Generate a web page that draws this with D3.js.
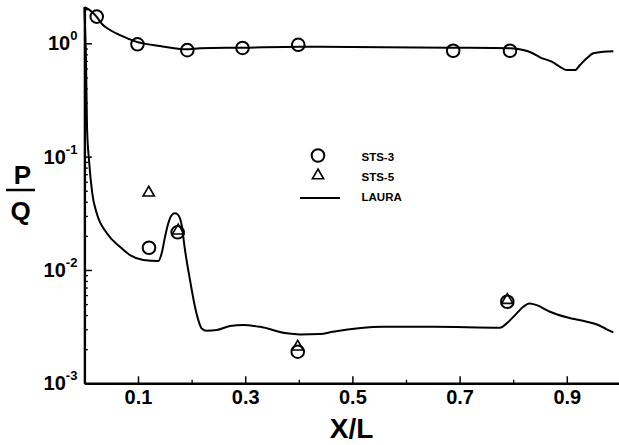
<!DOCTYPE html>
<html>
<head>
<meta charset="utf-8">
<script src="https://cdn.jsdelivr.net/npm/d3@7"></script>
<style>
  html, body { margin: 0; padding: 0; background: #fff; }
  svg { display: block; }
  text { font-family: "Liberation Sans", Arial, Helvetica, sans-serif; font-weight: bold; fill: #000; }
</style>
</head>
<body>
<svg id="chart" width="619" height="445"></svg>
<script>
// ---- data ----
const sts3X = [0.023, 0.099, 0.192, 0.295, 0.399, 0.688, 0.794, 0.1205, 0.174, 0.398, 0.789];
const sts3Y = [1.72, 0.98, 0.87, 0.91, 0.97, 0.86, 0.86, 0.0157, 0.0215, 0.0019, 0.00524];
const sts5X = [0.12, 0.175, 0.398, 0.789];
const sts5Y = [0.048, 0.0222, 0.0021, 0.00542];

const lauraUpperX = [0, 0.0067, 0.0142, 0.023, 0.0328, 0.0478, 0.0664, 0.0976, 0.141, 0.1909, 0.2157, 0.2953, 0.4022, 0.6877, 0.794, 0.8188, 0.8345, 0.85, 0.8718, 0.8873, 0.8998, 0.9153, 0.9246, 0.9371, 0.9494, 0.968, 0.9868];
const lauraUpperY = [2.09, 2.01, 1.89, 1.71, 1.48, 1.31, 1.18, 1.03, 0.946, 0.885, 0.904, 0.915, 0.933, 0.915, 0.904, 0.873, 0.826, 0.752, 0.688, 0.621, 0.581, 0.581, 0.643, 0.738, 0.816, 0.843, 0.85];

const lauraLowerX = [0, 0.002, 0.003, 0.0049, 0.0086, 0.0147, 0.023, 0.0416, 0.0664, 0.0851, 0.1099, 0.1379, 0.1442, 0.1504, 0.1565, 0.1629, 0.169, 0.1752, 0.1815, 0.1877, 0.197, 0.2063, 0.2125, 0.2188, 0.2282, 0.2468, 0.2716, 0.2965, 0.3276, 0.3774, 0.4022, 0.4396, 0.4638, 0.5577, 0.651, 0.7754, 0.7879, 0.8065, 0.8188, 0.83, 0.8438, 0.8687, 0.8998, 0.9371, 0.9588, 0.9744, 0.9868];
const lauraLowerY = [2.09, 1.07, 0.71, 0.182, 0.093, 0.0475, 0.0316, 0.0212, 0.016, 0.01353, 0.01225, 0.012, 0.01403, 0.0196, 0.0258, 0.0305, 0.0316, 0.0305, 0.0249, 0.015, 0.00816, 0.00473, 0.00361, 0.00305, 0.00291, 0.00295, 0.0032, 0.00327, 0.00315, 0.00276, 0.0027, 0.00272, 0.00285, 0.00315, 0.00315, 0.00309, 0.00338, 0.00414, 0.00473, 0.00507, 0.0049, 0.00428, 0.00382, 0.00349, 0.00327, 0.00299, 0.00281];

const xMajorTicks = [0.1, 0.3, 0.5, 0.7, 0.9];
const xMinorTicks = [0.2, 0.4, 0.6, 0.8];
const yMajorTicks = [1e-3, 1e-2, 1e-1, 1];
const yExponents = ["-3", "-2", "-1", "0"];
const legendLabels = ["STS-3", "STS-5", "LAURA"];

// ---- layout ----
const svg = d3.select("#chart");
const x = d3.scaleLinear().domain([0, 1]).range([84.4, 620.4]);
const y = d3.scaleLog().domain([0.001, 2.1]).range([383.3, 6.8]);

const yMinorTicks = [];
[0.001, 0.01, 0.1, 1].forEach(d => { for (let k = 2; k <= 9; k++) { const v = d * k; if (v <= 2.1) yMinorTicks.push(v); } });

// minor ticks
svg.append("g").attr("transform", "translate(84.4,0)")
  .call(d3.axisLeft(y).tickValues(yMinorTicks).tickSizeInner(-3.5).tickSizeOuter(0).tickFormat(() => ""))
  .call(g => g.select(".domain").remove())
  .call(g => g.selectAll("line").attr("stroke-width", 1.3));
svg.append("g").attr("transform", "translate(0,383.3)")
  .call(d3.axisBottom(x).tickValues(xMinorTicks).tickSizeInner(-3.5).tickSizeOuter(0).tickFormat(() => ""))
  .call(g => g.select(".domain").remove())
  .call(g => g.selectAll("line").attr("stroke-width", 1.3));

// major y axis
const gy = svg.append("g").attr("transform", "translate(84.4,0)")
  .call(d3.axisLeft(y).tickValues(yMajorTicks).tickSizeInner(-7.5).tickSizeOuter(0).tickPadding(7).tickFormat(() => ""));
gy.select(".domain").attr("stroke-width", 2.4);
gy.selectAll("line").attr("stroke-width", 1.5);
gy.selectAll(".tick text").each(function(d, i) {
  const t = d3.select(this).attr("font-size", 20).attr("font-family", null).attr("fill", "#000");
  t.append("tspan").text("10");
  t.append("tspan").attr("font-size", 13).attr("dy", -10).text(yExponents[yMajorTicks.indexOf(d)]);
});

// major x axis
const gx = svg.append("g").attr("transform", "translate(0,383.3)")
  .call(d3.axisBottom(x).tickValues(xMajorTicks).tickSizeInner(-7).tickSizeOuter(0).tickPadding(6.5).tickFormat(d3.format(".1f")));
gx.select(".domain").attr("stroke-width", 2.6);
gx.selectAll("line").attr("stroke-width", 1.5);
gx.selectAll(".tick text").attr("font-size", 20).attr("font-family", null).attr("fill", "#000");

// axis titles
svg.append("text").attr("x", 351.5).attr("y", 438).attr("text-anchor", "middle").attr("font-size", 28).text("X/L");
svg.append("text").attr("x", 22.5).attr("y", 183.5).attr("text-anchor", "middle").attr("font-size", 26).text("P");
svg.append("line").attr("x1", 6).attr("x2", 35).attr("y1", 190).attr("y2", 190).attr("stroke", "#000").attr("stroke-width", 2.5);
svg.append("text").attr("x", 20.5).attr("y", 219.5).attr("text-anchor", "middle").attr("font-size", 26).text("Q");

// LAURA curves
const line = d3.line().x(d => x(d[0])).y(d => y(d[1])).curve(d3.curveMonotoneX);
svg.append("path").datum(lauraUpperX.map((v, i) => [v, lauraUpperY[i]]))
  .attr("d", line).attr("fill", "none").attr("stroke", "#000").attr("stroke-width", 2);
svg.append("path").datum(lauraLowerX.map((v, i) => [v, lauraLowerY[i]]))
  .attr("d", line).attr("fill", "none").attr("stroke", "#000").attr("stroke-width", 2);

// symbols
const tri = d3.symbol().type(d3.symbolTriangle).size(55);
svg.append("g").selectAll("circle").data(sts3X.map((v, i) => [v, sts3Y[i]])).join("circle")
  .attr("cx", d => x(d[0])).attr("cy", d => y(d[1])).attr("r", 6.3)
  .attr("fill", "none").attr("stroke", "#000").attr("stroke-width", 2);
svg.append("g").selectAll("path").data(sts5X.map((v, i) => [v, sts5Y[i]])).join("path")
  .attr("d", tri).attr("transform", d => `translate(${x(d[0])},${y(d[1])})`)
  .attr("fill", "none").attr("stroke", "#000").attr("stroke-width", 1.6);

// legend
const lg = svg.append("g");
lg.append("circle").attr("cx", 318).attr("cy", 155.5).attr("r", 6.3).attr("fill", "none").attr("stroke", "#000").attr("stroke-width", 2);
lg.append("path").attr("d", tri).attr("transform", "translate(318,175.5)").attr("fill", "none").attr("stroke", "#000").attr("stroke-width", 1.6);
lg.append("line").attr("x1", 300).attr("x2", 340).attr("y1", 198).attr("y2", 198).attr("stroke", "#000").attr("stroke-width", 2);
legendLabels.forEach((s, i) => {
  lg.append("text").attr("x", 361.5).attr("y", 160.5 + i * 20.2).attr("font-size", 11.5).text(s);
});
</script>
</body>
</html>
